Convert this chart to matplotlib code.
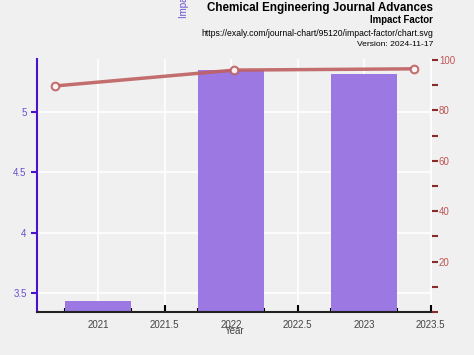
import matplotlib.pyplot as plt
from matplotlib.ticker import MultipleLocator, FormatStrFormatter

plt.rcParams["font.family"] = ["Liberation Sans", "DejaVu Sans"]

# Data
years = [2021, 2022, 2023]
impact_factor = [3.433, 5.35, 5.317]
percentile = [89.7, 96.0, 96.5]

title = "Chemical Engineering Journal Advances"
subtitle = "Impact Factor"
url = "https://exaly.com/journal-chart/95120/impact-factor/chart.svg"
version = "Version: 2024-11-17"

bg = "#f0f0f0"
bar_color = "#9b78e2"
left_color = "#4a12cc"
left_text = "#6a4fcf"
right_color = "#8b2a2a"
right_text = "#c05555"
line_color = "#bf6060"

fig = plt.figure(figsize=(4.74, 3.55), dpi=100)
fig.patch.set_facecolor(bg)

pos = [37 / 474, 1 - 312 / 355, (432 - 37) / 474, (312 - 59) / 355]
ax = fig.add_axes(pos)
ax.set_facecolor(bg)
ax.bar(years, impact_factor, width=0.5, color=bar_color, zorder=2)
ax.set_xlim(2020.54, 2023.51)
ax.set_ylim(3.342, 5.44)
ax.xaxis.set_major_locator(MultipleLocator(0.5))
ax.xaxis.set_minor_locator(MultipleLocator(0.25))
ax.xaxis.set_major_formatter(FormatStrFormatter("%g"))
ax.yaxis.set_major_locator(MultipleLocator(0.5))
ax.yaxis.set_major_formatter(FormatStrFormatter("%g"))
ax.grid(True, color="white", linewidth=1.2, zorder=0)
ax.set_axisbelow(True)
ax.tick_params(axis="x", which="both", direction="in", colors="black",
               labelcolor="#444444", labelsize=7, length=5, width=1.5, pad=6)
ax.tick_params(axis="x", which="minor", length=3)
ax.tick_params(axis="y", which="both", direction="out", colors=left_color,
               labelcolor=left_text, labelsize=7, length=4, width=1.5)
for s in ["top", "right"]:
    ax.spines[s].set_visible(False)
ax.spines["left"].set_color(left_color)
ax.spines["left"].set_linewidth(1.5)
ax.spines["bottom"].set_color("#222222")
ax.spines["bottom"].set_linewidth(1.5)
ax.set_xlabel("Year", fontsize=7, color="#444444", labelpad=-3)

# percentile line on its own overlay axes
ax2 = fig.add_axes(pos, frameon=False)
ax2.plot(years, percentile, color=line_color, linewidth=2.5, alpha=0.9,
         marker="o", markersize=5.5, markerfacecolor="white",
         markeredgecolor=line_color, markeredgewidth=1.5, zorder=3)
ax2.set_xlim(2020.9, 2023.1)
ax2.set_ylim(0, 100.4)
ax2.xaxis.set_visible(False)
ax2.yaxis.tick_right()
ax2.yaxis.set_major_locator(MultipleLocator(20))
ax2.yaxis.set_minor_locator(MultipleLocator(10))
ax2.set_yticks([20, 40, 60, 80, 100])
ax2.tick_params(axis="y", which="both", direction="out", colors=right_color,
                labelcolor=right_text, labelsize=7, length=4, width=1.5,
                pad=1)
ax2.spines["right"].set_visible(True)
ax2.spines["right"].set_color(right_color)
ax2.spines["right"].set_linewidth(1.5)

fig.text(433 / 474, 1 - 8 / 355, title, ha="right", va="center",
         fontsize=8.4, fontweight="bold")
fig.text(433 / 474, 1 - 20 / 355, subtitle, ha="right", va="center",
         fontsize=6.9, fontweight="bold")
fig.text(433 / 474, 1 - 33 / 355, url, ha="right", va="center",
         fontsize=6.2)
fig.text(433 / 474, 1 - 44 / 355, version, ha="right", va="center",
         fontsize=6.1)
fig.text(184 / 474, 1 - 18 / 355, "Impact Factor", rotation=90,
         ha="center", va="bottom", fontsize=7, color=left_text)

fig.savefig("out.png", dpi=100, facecolor=bg)
